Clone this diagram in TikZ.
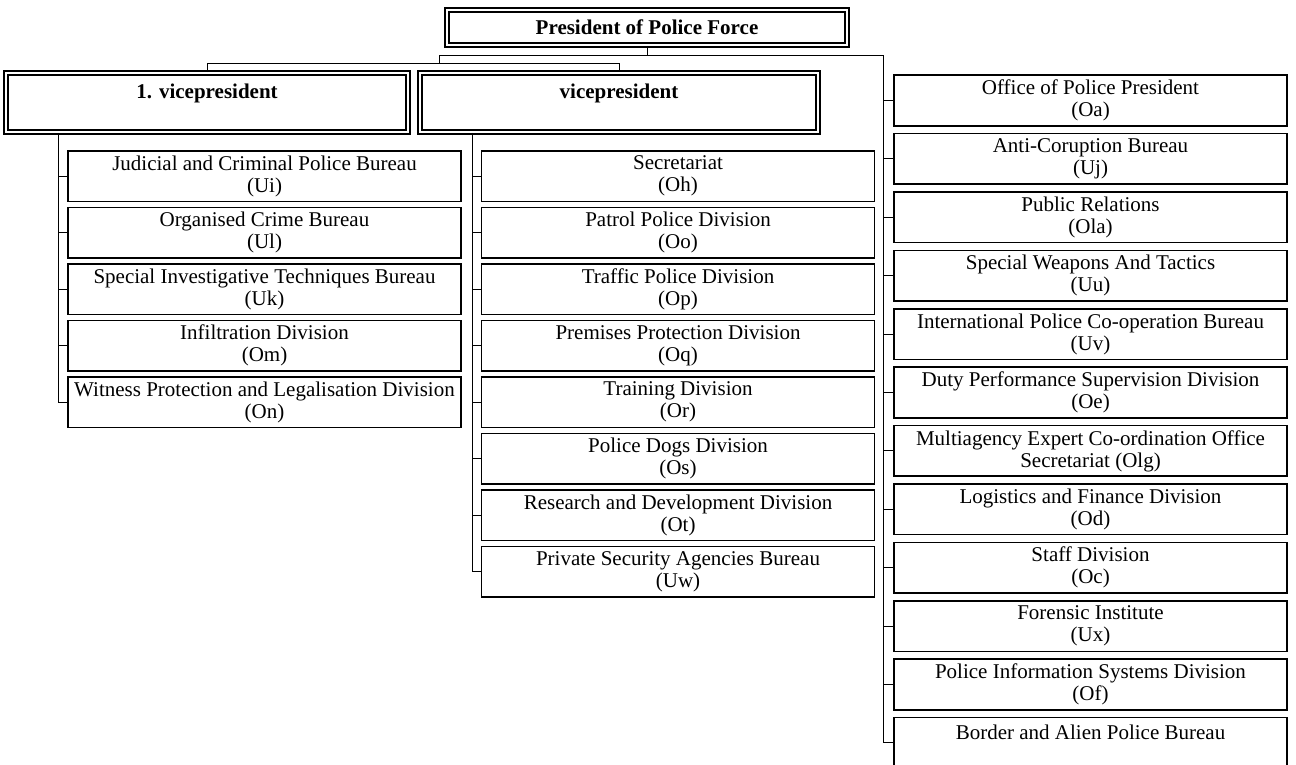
\documentclass[tikz,border=0pt]{standalone}
\usepackage{fontspec}
\setmainfont{Liberation Serif}
\begin{document}
\begin{tikzpicture}[x=0.5pt, y=-0.5pt,
    unit/.style = {draw, line width=0.8pt, align=center, minimum width=196.5pt, minimum height=25.25pt, inner sep=0pt, font=\fontsize{10.5}{11}\selectfont},
    head/.style = {draw, double, line width=0.9pt, double distance=1.2pt, align=center, inner sep=0pt, font=\fontsize{10.5}{11}\selectfont\bfseries},
    link/.style = {line width=0.5pt}]
    \useasboundingbox (0,0) rectangle (1296,765);
    \node[head, minimum width=200pt, minimum height=17.5pt] (pres) at (647,27.5) {President of Police Force};
    \node[head, minimum width=201pt, minimum height=29.5pt] (v1) at (207,102.5) {1. vicepresident\\~};
    \node[head, minimum width=199pt, minimum height=29.5pt] (v2) at (619,102.5) {vicepresident\\~};
    % first vicepresident
    \foreach \t [count=\i] in {{Judicial and Criminal Police Bureau\\(Ui)}, {Organised Crime Bureau\\(Ul)},
        {Special Investigative Techniques Bureau\\(Uk)}, {Infiltration Division\\(Om)},
        {Witness Protection and Legalisation Division\\(On)}}
        \node[unit] (l\i) at (264.5,119.75+56.5*\i) {\t};
    % vicepresident
    \foreach \t [count=\i] in {{Secretariat\\(Oh)}, {Patrol Police Division\\(Oo)}, {Traffic Police Division\\(Op)},
        {Premises Protection Division\\(Oq)}, {Training Division\\(Or)}, {Police Dogs Division\\(Os)},
        {Research and Development Division\\(Ot)}, {Private Security Agencies Bureau\\(Uw)}}
        \node[unit] (m\i) at (678,119.75+56.5*\i) {\t};
    % president
    \foreach \t [count=\i] in {{Office of Police President\\(Oa)}, {Anti-Coruption Bureau\\(Uj)}, {Public Relations\\(Ola)},
        {Special Weapons And Tactics\\(Uu)}, {International Police Co-operation Bureau\\(Uv)},
        {Duty Performance Supervision Division\\(Oe)}, {Multiagency Expert Co-ordination Office\\Secretariat (Olg)},
        {Logistics and Finance Division\\(Od)}, {Staff Division\\(Oc)}, {Forensic Institute\\(Ux)},
        {Police Information Systems Division\\(Of)}, {Border and Alien Police Bureau\\~}}
        \node[unit] (r\i) at (1090.5,42.1+58.4*\i) {\t};
    % connectors
    \coordinate (jl) at (439,56);
    \coordinate (jr) at (883,56);
    \coordinate (bus) at (439,64);
    \coordinate (tl) at (58,132);
    \coordinate (tm) at (472,132);
    \draw[link] (pres.south) -- (pres.south |- jl);
    \draw[link] (jl) -- (jr) |- (r12.west);
    \draw[link] (jl) -- (bus);
    \draw[link] (v1.north) |- (v2.north |- bus) -- (v2.north);
    \draw[link] (v1.south -| tl) |- (l5.west);
    \draw[link] (v2.south -| tm) |- (m8.west);
    \foreach \i in {1,...,4} \draw[link] (l\i.west) -- (l\i.west -| tl);
    \foreach \i in {1,...,7} \draw[link] (m\i.west) -- (m\i.west -| tm);
    \foreach \i in {1,...,11} \draw[link] (r\i.west) -- (r\i.west -| jr);
\end{tikzpicture}
\end{document}
